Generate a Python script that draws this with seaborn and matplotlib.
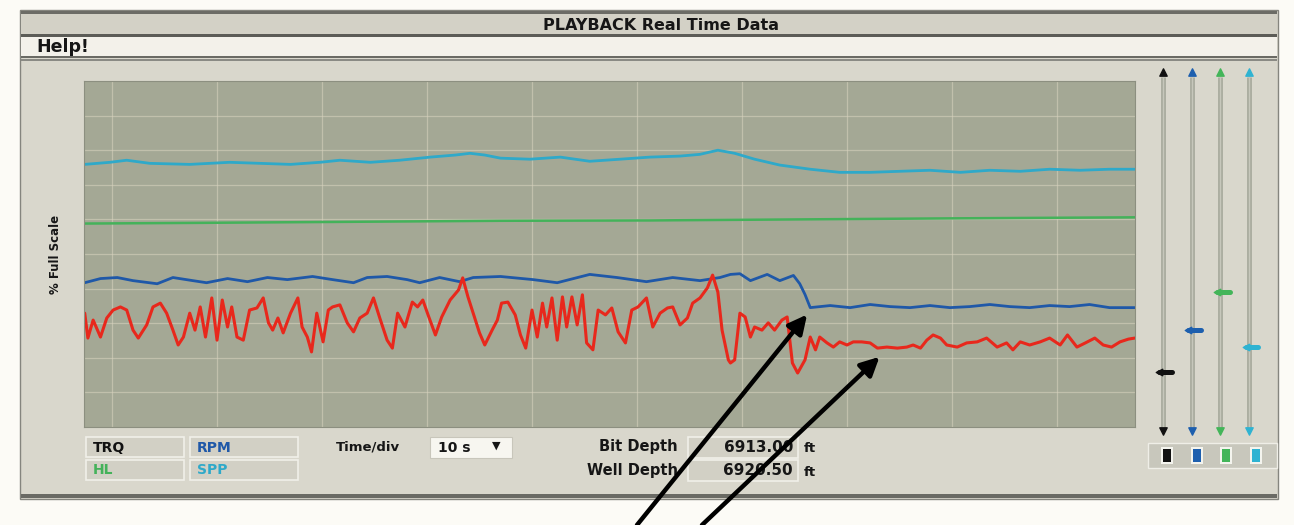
import numpy as np
import matplotlib
matplotlib.use("Agg")
import matplotlib.pyplot as plt
from matplotlib.patches import Rectangle
import seaborn as sns

# ---- playback traces: time (s) and % of full scale ----
trq_t = [-2.6, -2.3, -1.8, -1.1, -0.5, 0.1, 0.8, 1.4, 2.0, 2.5,
         3.3, 3.9, 4.6, 5.2, 5.8, 6.3, 6.8, 7.4, 7.9, 8.4,
         8.9, 9.5, 10.0, 10.5, 11.0, 11.4, 11.9, 12.5, 13.1, 13.8,
         14.4, 14.9, 15.3, 15.8, 16.3, 17.0, 17.7, 18.1, 18.6, 19.0,
         19.5, 20.1, 20.6, 21.0, 21.7, 22.4, 23.0, 23.6, 24.3, 24.9,
         25.5, 26.2, 26.7, 27.2, 27.9, 28.6, 29.1, 29.6, 30.1, 30.8,
         31.4, 32.2, 33.0, 33.4, 33.9, 34.4, 35.0, 35.5, 36.2, 36.7,
         37.1, 37.7, 38.4, 38.9, 39.4, 40.0, 40.5, 41.0, 41.4, 41.9,
         42.4, 42.9, 43.3, 43.8, 44.3, 44.8, 45.2, 45.8, 46.3, 47.0,
         47.6, 48.2, 48.9, 49.5, 50.1, 50.9, 51.5, 52.2, 52.9, 53.4,
         54.1, 54.8, 55.3, 56.0, 56.7, 57.2, 57.7, 58.1, 58.7, 58.9,
         59.3, 59.8, 60.3, 60.8, 61.2, 61.9, 62.5, 63.1, 63.8, 64.3,
         64.8, 65.3, 66.0, 66.5, 67.0, 67.4, 68.1, 68.7, 69.3, 70.0,
         70.6, 71.4, 72.2, 72.9, 73.8, 74.8, 75.7, 76.3, 77.0, 77.6,
         78.2, 78.9, 79.5, 80.5, 81.4, 82.4, 83.3, 84.3, 85.2, 85.8,
         86.5, 87.4, 88.4, 89.3, 90.3, 91.0, 91.9, 92.7, 93.6, 94.4,
         95.2, 96.0, 96.8, 97.4]
trq_v = [32.9, 25.7, 30.9, 26.0, 31.5, 33.8, 34.7, 33.8, 28.0, 25.7,
         29.5, 34.7, 35.8, 32.9, 28.0, 23.7, 26.0, 32.9, 28.0, 34.7,
         26.0, 37.3, 25.1, 36.7, 28.9, 34.7, 26.0, 25.1, 33.8, 34.4,
         37.3, 30.1, 28.0, 31.5, 27.2, 32.9, 37.3, 28.9, 26.0, 21.7,
         32.9, 24.6, 33.8, 34.7, 35.3, 30.1, 27.5, 31.5, 32.9, 37.3,
         31.5, 25.1, 22.8, 32.9, 28.9, 36.1, 34.7, 36.7, 32.4, 26.6,
         31.8, 36.7, 39.6, 43.1, 37.6, 32.9, 27.2, 23.7, 28.0, 30.9,
         35.8, 36.1, 32.4, 26.6, 22.8, 33.8, 26.0, 35.8, 28.9, 37.3,
         25.1, 37.6, 28.9, 37.6, 29.5, 38.2, 24.3, 22.3, 33.8, 32.4,
         34.4, 27.5, 24.3, 33.8, 34.7, 37.3, 28.9, 32.9, 34.4, 34.7,
         29.5, 31.5, 35.8, 37.3, 40.2, 43.9, 39.0, 28.0, 19.4, 18.5,
         19.4, 32.9, 31.8, 26.0, 28.9, 28.0, 30.1, 28.0, 30.9, 31.8,
         18.5, 15.6, 19.4, 26.0, 22.3, 26.0, 24.3, 23.1, 24.6, 23.7,
         24.6, 24.6, 24.3, 22.8, 23.1, 22.8, 23.1, 23.7, 22.8, 25.1,
         26.6, 25.7, 23.7, 23.1, 24.3, 24.6, 25.7, 23.1, 24.3, 22.3,
         24.6, 23.7, 24.6, 25.7, 23.7, 26.6, 23.1, 24.3, 25.7, 23.7,
         23.1, 24.6, 25.4, 25.7]

rpm_t = [-2.6, -1.1, 0.5, 2.0, 4.3, 5.8, 7.7, 9.0, 11.0, 12.9,
         14.8, 16.7, 19.1, 21.0, 23.0, 24.3, 26.2, 28.1, 29.3, 31.2,
         33.1, 34.4, 37.0, 40.1, 42.4, 45.5, 48.1, 50.9, 53.4, 56.0,
         57.9, 58.9, 59.8, 60.8, 62.4, 63.6, 64.9, 65.5, 66.0, 66.5,
         68.4, 70.3, 72.2, 74.1, 76.0, 77.9, 79.8, 81.7, 83.6, 85.5,
         87.4, 89.3, 91.2, 93.1, 95.0, 97.4]
rpm_v = [41.7, 42.9, 43.2, 42.3, 41.4, 43.2, 42.3, 41.7, 42.9, 42.0,
         43.2, 42.6, 43.5, 42.6, 41.7, 43.2, 43.5, 42.6, 41.7, 43.2,
         42.0, 43.2, 43.5, 42.6, 41.7, 44.1, 43.2, 42.0, 43.2, 42.3,
         43.2, 44.1, 44.3, 42.3, 44.1, 42.3, 43.8, 41.4, 38.3, 34.5,
         35.1, 34.5, 35.4, 34.8, 34.5, 35.1, 34.5, 34.8, 35.4, 34.8,
         34.5, 35.1, 34.8, 35.4, 34.5, 34.5]

spp_t = [-2.6, -0.2, 1.4, 3.6, 7.4, 11.2, 14.1, 17.0, 19.8, 21.7,
         24.6, 27.4, 30.3, 32.7, 34.1, 35.5, 37.0, 39.8, 42.7, 45.5,
         48.4, 51.2, 54.1, 56.0, 57.7, 59.3, 61.2, 63.6, 66.5, 69.3,
         72.2, 75.0, 77.9, 80.8, 83.6, 86.5, 89.3, 92.2, 95.0, 97.4]
spp_v = [75.9, 76.5, 77.1, 76.2, 75.9, 76.5, 76.2, 75.9, 76.5, 77.1,
         76.5, 77.1, 78.0, 78.6, 79.1, 78.6, 77.7, 77.4, 78.0, 76.8,
         77.4, 78.0, 78.3, 78.8, 80.0, 79.1, 77.4, 75.7, 74.5, 73.6,
         73.6, 73.9, 74.2, 73.6, 74.2, 73.9, 74.5, 74.2, 74.5, 74.5]

hl_t = [-2.6, 8.4, 22.7, 37.0, 51.2, 65.5, 79.8, 97.4]
hl_v = [58.8, 59.0, 59.3, 59.6, 59.7, 60.0, 60.3, 60.6]

# channel legend, slider thumbs and readouts
channels = ["TRQ", "RPM", "HL", "SPP"]
channel_colors = ["#e8281c", "#1f58a8", "#44b25a", "#2fa9c9"]
slider_colors = ["#111111", "#1d5fae", "#43b559", "#2fb3d2"]
slider_pos = [16.0, 28.0, 39.0, 23.0]
time_per_div = "10 s"
bit_depth = "6913.00"
well_depth = "6920.50"

W, H = 1294, 525
sns.set_style("white")
plt.rcParams["font.family"] = ["DejaVu Sans"]

fig = plt.figure(figsize=(W / 100, H / 100), dpi=100, facecolor="#fcfbf6")


def fx(x):
    return x / W


def fy(y):
    return 1 - y / H


def box(x0, y0, x1, y1, fc, ec="none", lw=0.0, z=-10):
    fig.patches.append(Rectangle((fx(x0), fy(y1)), (x1 - x0) / W, (y1 - y0) / H,
                                 transform=fig.transFigure, facecolor=fc,
                                 edgecolor=ec, linewidth=lw, zorder=z))


def label(x, y, s, **kw):
    kw.setdefault("fontweight", "bold")
    kw.setdefault("va", "center")
    kw.setdefault("zorder", -5)
    kw.setdefault("color", "#161616")
    fig.text(fx(x), fy(y), s, **kw)


# window frame, title bar and menu bar
box(20, 10, 1278, 499, "#d9d7cc", ec="#85857e", lw=1.0, z=-20)
box(21, 12, 1277, 35, "#d3d1c6", z=-19)
box(21, 11, 1277, 13.5, "#6c6c66", z=-18)
box(21, 34, 1277, 37, "#5c5c57", z=-18)
box(21, 37, 1277, 56, "#f3f1ea", z=-19)
box(21, 56, 1277, 58, "#6a6a64", z=-18)
box(21, 59, 1277, 60.5, "#8a8a84", z=-18)
box(21, 494, 1277, 497.5, "#6a6a64", z=-18)
label(661, 26, "PLAYBACK Real Time Data", ha="center", fontsize=11.5)
label(36, 47.5, "Help!", ha="left", fontsize=12.5)

# main strip chart
ax = fig.add_axes([fx(84), fy(427), (1135 - 84) / W, (427 - 81) / H])
ax.set_facecolor("#a4a895")
sns.lineplot(x=spp_t, y=spp_v, ax=ax, color=channel_colors[3], linewidth=2.0,
             estimator=None, sort=False)
sns.lineplot(x=hl_t, y=hl_v, ax=ax, color=channel_colors[2], linewidth=1.8,
             estimator=None, sort=False)
sns.lineplot(x=rpm_t, y=rpm_v, ax=ax, color=channel_colors[1], linewidth=2.0,
             estimator=None, sort=False)
sns.lineplot(x=trq_t, y=trq_v, ax=ax, color=channel_colors[0], linewidth=2.2,
             estimator=None, sort=False)
ax.set_xlim(-2.67, 97.43)
ax.set_ylim(0, 100)
ax.set_xticks(np.arange(0, 100, 10))
ax.set_yticks(np.arange(10, 100, 10))
ax.grid(True, color="#d9d4c0", linewidth=0.9, alpha=0.55)
ax.tick_params(length=0, labelbottom=False, labelleft=False)
for s in ax.spines.values():
    s.set_color("#8c8f80")
    s.set_linewidth(0.8)
ax.set_xlabel("")
ax.set_ylabel("% Full Scale", fontsize=8.5, fontweight="bold", color="#161616")
ax.yaxis.set_label_coords(-0.021, 0.5)

# arrows marking the RPM drop and the calmer torque that follows
arrow_kw = dict(arrowstyle="-|>", lw=3.2, color="black", mutation_scale=28,
                shrinkA=0, shrinkB=0)
ax.annotate("", xy=(66.2, 32.5), xycoords="data", xytext=(637, 0),
            textcoords="figure pixels", arrowprops=arrow_kw, annotation_clip=False)
ax.annotate("", xy=(73.1, 20.3), xycoords="data", xytext=(702, 0),
            textcoords="figure pixels", arrowprops=arrow_kw, annotation_clip=False)

# channel scale sliders
sax = fig.add_axes([fx(1148), fy(427), (1276 - 1148) / W, (427 - 81) / H])
sax.set_xlim(-0.52, 3.94)
sax.set_ylim(0, 100)
sax.axis("off")
for i, (c, v) in enumerate(zip(slider_colors, slider_pos)):
    sax.plot([i, i], [-0.5, 101.2], color="#a9ab9e", lw=3.5, clip_on=False,
             solid_capstyle="butt")
    sax.plot([i, i], [-0.5, 101.2], color="#c6c7bb", lw=1.0, clip_on=False,
             solid_capstyle="butt")
    sax.scatter([i], [102.6], marker="^", s=28, color=c, clip_on=False, zorder=4)
    sax.scatter([i], [-1.2], marker="v", s=28, color=c, clip_on=False, zorder=4)
    sax.plot([i - 0.12, i + 0.32], [v, v], color=c, lw=3.6, clip_on=False,
             solid_capstyle="round", zorder=5)
    sax.scatter([i - 0.12], [v], marker="<", s=22, color=c, clip_on=False, zorder=5)

# colour swatches under the sliders
box(1148, 443, 1277, 468, "#c8c7bc", ec="#efeee7", lw=1.0)
for cx, c in zip([1167, 1197, 1226, 1256], slider_colors):
    box(cx - 6, 447, cx + 6, 464, "#f4f4ee")
    box(cx - 4, 449, cx + 4, 462, c, z=-9)

# channel name boxes
for (x0, y0), name, c in zip([(86, 437), (190, 437), (86, 460), (190, 460)],
                             channels, ["#111111"] + channel_colors[1:]):
    box(x0, y0, x0 + (98 if x0 < 100 else 108), y0 + 20, "#d2d0c5",
        ec="#f1f0e9", lw=1.2)
    label(x0 + 7, y0 + 10.5, name, color=c, fontsize=10)

# time base selector
label(336, 447, "Time/div", ha="left", fontsize=9.5)
box(430, 437, 512, 458, "#f7f6f0", ec="#c8c6bb", lw=0.8)
label(438, 447.5, time_per_div, ha="left", fontsize=10)
label(492, 446, "\u25bc", ha="left", fontsize=8)

# depth readouts
for y, name, val in [(447, "Bit Depth", bit_depth), (470, "Well Depth", well_depth)]:
    label(678, y, name, ha="right", fontsize=10.5)
    box(688, y - 10, 798, y + 11, "#d2d0c5", ec="#f1f0e9", lw=1.2)
    label(793, y + 0.5, val, ha="right", fontsize=11)
    label(804, y + 2, "ft", ha="left", fontsize=9.5)

fig.savefig("out.png", dpi=100, facecolor=fig.get_facecolor())
